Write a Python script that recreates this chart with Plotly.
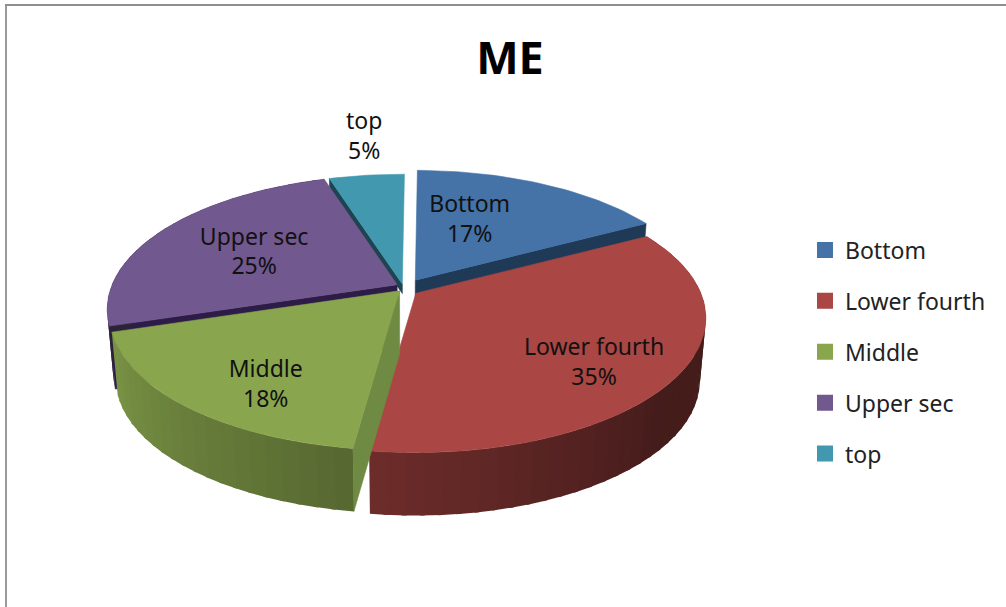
import math
import plotly.graph_objects as go

# ---- data ----
categories = ["Bottom", "Lower fourth", "Middle", "Upper sec", "top"]
values = [17, 35, 18, 25, 5]
title_text = "ME"

# ---- styling ----
top_colors = ["#4572A7", "#AA4643", "#89A54E", "#71588F", "#4198AF"]
wall_colors = ["#1F3A57", "#431B18", "#6F8A42", "#2D1C48", "#1D4450"]
rim_shade = [
    None,
    [(0, .40), (130, .40), (187.2, .64)],
    [(187.2, .63), (252, .90)],
    [(0, .40), (400, .40)],
    None,
]
explode = [(18, 8), (12, 11), (10, 5), (10, 5), (25, 3)]   # slice pull-out, x and y
wall_edges = [(1,), (), (0,), (0,), (0,)]                  # which cut faces can be seen
wall_depth = [1, 1, 1, 1, .15]
label_radius = [.537, .754, .766, .581, 1.425]
label_shift = [-8.3, 6.4, -7.4, -2.1, 1.7]
paint_order = [4, 3, 0, 1, 2]

FONT = "Noto Sans"
TEXT_SIZE = 23
# Pie model in the axis units of the picture
CX, CY = 406, 287
RX, RY, PERSP = 285, 130, .184
ROTATE = 0.5
DEPTH, DEPTH_X = 63, .98


def rgb(hex_color, f):
    h = hex_color.lstrip("#")
    return "rgb(%d,%d,%d)" % tuple(int(int(h[i:i + 2], 16) * f) for i in (0, 2, 4))


def shade_at(stops, t):
    if t <= stops[0][0]:
        return stops[0][1]
    for (a, fa), (b, fb) in zip(stops, stops[1:]):
        if t <= b:
            return fa + (fb - fa) * (t - a) / (b - a)
    return stops[-1][1]


def project(theta, r, apex):
    u, v = r * math.sin(math.radians(theta)), -r * math.cos(math.radians(theta))
    d = 1 - PERSP * v
    return apex[0] + RX * u / d, apex[1] + RY * v / d


def below(p, f=1.0):
    return CX + (p[0] - CX) * (1 - (1 - DEPTH_X) * f), p[1] + DEPTH * f


def arc(a, b, apex):
    n = max(2, int(abs(b - a) / 1.5) + 1)
    return [project(a + (b - a) * i / (n - 1), 1, apex) for i in range(n)]


def poly(fig, pts, color, width=.6):
    fig.add_trace(go.Scatter(
        x=[p[0] for p in pts] + [pts[0][0]], y=[p[1] for p in pts] + [pts[0][1]],
        mode="lines", fill="toself", fillcolor=color, line=dict(color=color, width=width),
        hoverinfo="skip", showlegend=False))


total = sum(values)
spans, start = [], ROTATE
for val in values:
    end = start + val / total * 360
    spans.append((start, end))
    start = end

apexes = []
for (a, b), (ex, ey) in zip(spans, explode):
    mid = math.radians((a + b) / 2)
    apexes.append((CX + ex * math.sin(mid), CY - ey * math.cos(mid)))

fig = go.Figure()
for i in paint_order:
    a, b = spans[i]
    apex = apexes[i]
    # cut faces
    for e in wall_edges[i]:
        rim = project((a, b)[e], 1, apex)
        f = wall_depth[i]
        poly(fig, [apex, rim, below(rim, f), below(apex, f)], wall_colors[i])
    # outer wall, in short shaded strips that overlap a little so no seams show
    if rim_shade[i]:
        n = max(1, int((b - a) / 3))
        for k in range(n):
            t0 = a + (b - a) * k / n
            t1 = min(b, a + (b - a) * (k + 1) / n + .8)
            pts = arc(t0, t1, apex)
            poly(fig, pts + [below(p) for p in reversed(pts)],
                 rgb(top_colors[i], shade_at(rim_shade[i], (t0 + t1) / 2)), width=0)
    # top face
    poly(fig, [apex] + arc(a, b, apex), top_colors[i])

# data labels
for i, name in enumerate(categories):
    a, b = spans[i]
    x, y = project((a + b) / 2 + label_shift[i], label_radius[i], apexes[i])
    fig.add_trace(go.Scatter(
        x=[x], y=[y], mode="text", text=[f"{name}<br>{values[i]}%"],
        textposition="middle center",
        textfont=dict(family=FONT, size=TEXT_SIZE, color="#111111"),
        hoverinfo="skip", showlegend=False))

# legend entries
for i, name in enumerate(categories):
    fig.add_trace(go.Scatter(
        x=[None], y=[None], mode="markers", name=name, legendgroup=name,
        marker=dict(symbol="square", size=16, color=top_colors[i])))

fig.update_layout(
    width=1006, height=607, margin=dict(l=0, r=0, t=0, b=0),
    paper_bgcolor="white", plot_bgcolor="white",
    xaxis=dict(range=[0, 1006], visible=False, fixedrange=True),
    yaxis=dict(range=[607, 0], visible=False, fixedrange=True),
    title=dict(text=f"<b>{title_text}</b>", x=510 / 1006, y=1 - 58 / 607, xanchor="center",
               yanchor="middle", font=dict(family=FONT, size=45, color="#000000")),
    legend=dict(x=805 / 1006, y=1 - 228.5 / 607, xanchor="left", yanchor="top",
                font=dict(family=FONT, size=TEXT_SIZE, color="#222222"),
                tracegroupgap=18, bgcolor="rgba(0,0,0,0)", itemclick=False, itemdoubleclick=False),
    shapes=[
        dict(type="line", xref="paper", yref="paper", x0=6 / 1006, x1=6 / 1006, y0=0, y1=1 - 5 / 607,
             line=dict(color="#9A9A9A", width=2)),
        dict(type="line", xref="paper", yref="paper", x0=5 / 1006, x1=1, y0=1 - 5 / 607, y1=1 - 5 / 607,
             line=dict(color="#8E8E8E", width=2)),
    ],
)
fig.write_html("out.html", config={"displayModeBar": False},
               post_script="document.body.style.margin='0';")
